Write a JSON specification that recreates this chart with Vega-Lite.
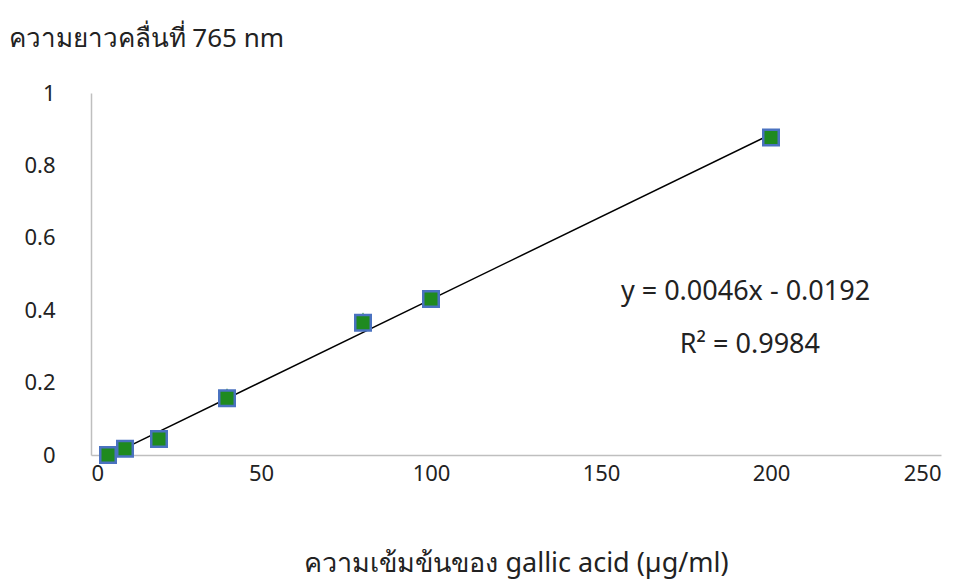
{
  "$schema": "https://vega.github.io/schema/vega-lite/v6.json",
  "width": 850,
  "height": 362,
  "autosize": {"type": "none"},
  "padding": {"left": 91, "top": 93, "right": 25, "bottom": 124},
  "background": "white",
  "config": {
    "view": {"stroke": null},
    "font": "Noto Sans, Open Sans, sans-serif"
  },
  "data": {
    "values": [
      {"conc": 5, "abs": 0.0, "abs2": 0.0},
      {"conc": 10, "abs": 0.017, "abs2": 0.017},
      {"conc": 20, "abs": 0.044, "abs2": 0.044},
      {"conc": 40, "abs": 0.157, "abs2": 0.17},
      {"conc": 80, "abs": 0.365, "abs2": 0.379},
      {"conc": 100, "abs": 0.431, "abs2": 0.431},
      {"conc": 200, "abs": 0.877, "abs2": 0.877}
    ]
  },
  "encoding": {
    "x": {
      "field": "conc",
      "type": "quantitative",
      "scale": {"domain": [0, 250], "nice": false},
      "axis": {
        "values": [0, 50, 100, 150, 200, 250],
        "grid": false,
        "ticks": false,
        "domainColor": "#bfbfbf",
        "domainWidth": 1.5,
        "labelFontSize": 22,
        "labelColor": "#222222",
        "labelPadding": 8,
        "title": "ความเข้มข้นของ gallic acid (µg/ml)",
        "titleFontSize": 27,
        "titleFontWeight": "normal",
        "titleColor": "#222222",
        "titlePadding": 66
      }
    },
    "y": {
      "field": "abs",
      "type": "quantitative",
      "scale": {"domain": [0, 1], "nice": false},
      "axis": {
        "values": [0, 0.2, 0.4, 0.6, 0.8, 1],
        "format": "~g",
        "grid": false,
        "ticks": false,
        "domainColor": "#bfbfbf",
        "domainWidth": 1.5,
        "labelFontSize": 22,
        "labelColor": "#222222",
        "labelPadding": 36,
        "title": "ความยาวคลื่นที่ 765 nm",
        "titleAngle": 0,
        "titleAlign": "left",
        "titleBaseline": "middle",
        "titleX": -83,
        "titleY": -55,
        "titleFontSize": 26,
        "titleFontWeight": "normal",
        "titleColor": "#222222"
      }
    }
  },
  "layer": [
    {
      "mark": {
        "type": "point",
        "shape": "triangle-up",
        "size": 150,
        "filled": true,
        "color": "#3a9a3a",
        "opacity": 1
      },
      "encoding": {
        "y": {"field": "abs2", "type": "quantitative"}
      }
    },
    {
      "transform": [
        {"regression": "abs", "on": "conc", "extent": [5, 200]}
      ],
      "mark": {"type": "line", "color": "#000000", "strokeWidth": 1.5}
    },
    {
      "mark": {
        "type": "square",
        "size": 240,
        "filled": true,
        "color": "#1f8a1f",
        "stroke": "#4a72c0",
        "strokeWidth": 2.5,
        "opacity": 1
      }
    },
    {
      "data": {"values": [
        {"label": "y = 0.0046x - 0.0192", "lx": 192.5, "ly": 0.45},
        {"label": "R² = 0.9984", "lx": 193.8, "ly": 0.304}
      ]},
      "mark": {"type": "text", "fontSize": 27, "color": "#222222", "align": "center", "baseline": "middle"},
      "encoding": {
        "x": {"field": "lx", "type": "quantitative"},
        "y": {"field": "ly", "type": "quantitative"},
        "text": {"field": "label"}
      }
    }
  ]
}
